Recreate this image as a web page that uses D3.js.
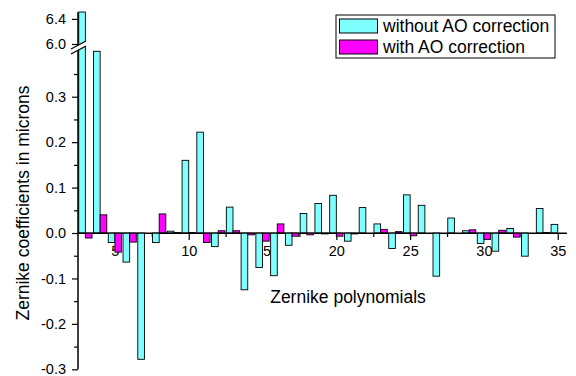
<!DOCTYPE html>
<html>
<head>
<meta charset="utf-8">
<script src="https://cdn.jsdelivr.net/npm/d3@7"></script>
<style>
  body { margin: 0; background: #fff; }
  text { font-family: "Liberation Sans", Arial, sans-serif; fill: #000; }
</style>
</head>
<body>
<svg id="chart" width="576" height="376"></svg>
<script>
var indices = d3.range(3, 36)
var withoutAO = [6.6, 1.5, -0.021, -0.064, -0.278, -0.021, 0.004, 0.160, 0.222, -0.030,
  0.057, -0.125, -0.076, -0.094, -0.027, 0.043, 0.065, 0.083, -0.018, 0.056,
  0.020, -0.034, 0.084, 0.061, -0.095, 0.033, 0.005, -0.023, -0.040, 0.010,
  -0.051, 0.054, 0.019]
var withAO = [-0.011, 0.040, -0.042, -0.020, 0.0, 0.042, 0.001, 0.001, -0.021, 0.005,
  0.005, -0.004, -0.018, 0.020, -0.007, -0.004, -0.002, -0.007, -0.002, 0.0,
  0.008, 0.003, -0.006, 0.0, 0.0, 0.0, 0.007, -0.014, 0.006, -0.009,
  0.0, 0.001, 0.0]
var seriesNames = ["without AO correction", "with AO correction"]
var seriesColors = ["#80ffff", "#ff00ff"]
var xTicks = [5, 10, 15, 20, 25, 30, 35]
var xMinor = [7.5, 12.5, 17.5, 22.5, 27.5, 32.5]
var yLowTicks = [-0.3, -0.2, -0.1, 0.0, 0.1, 0.2, 0.3]
var yLowMinor = [-0.25, -0.15, -0.05, 0.05, 0.15, 0.25, 0.35]
var yHighTicks = [6.0, 6.4]

var svg = d3.select("#chart")
var x = d3.scaleLinear().domain([2.5, 35.6]).range([78, 566.6])
var yLow = d3.scaleLinear().domain([-0.3, 0.4]).range([369.3, 51.3])
var yHigh = d3.scaleLinear().domain([6.0, 6.51]).range([44, 12])
var barW = 0.45

// broken axis: values between the two segments are cut at the top of the lower one
function yPos(v) {
  if (v <= 0.4) return yLow(v)
  if (v < 6.0) return yLow(0.4)
  return yHigh(Math.min(v, 6.51))
}

var fmt = function(d) { return d.toFixed(1) }

// x axis sits on the zero line; drawn before the bars, which cover its labels
var xAxis = svg.append("g")
  .attr("transform", "translate(0," + yLow(0) + ")")
  .call(d3.axisBottom(x).tickValues(xTicks).tickSize(7).tickPadding(6).tickSizeOuter(0))
xAxis.selectAll("text").style("font-size", "14.5px")
svg.append("g")
  .attr("transform", "translate(0," + yLow(0) + ")")
  .call(d3.axisBottom(x).tickValues(xMinor).tickSize(4).tickFormat("").tickSizeOuter(0))
  .select(".domain").remove()

var series = [withoutAO, withAO]
series.forEach(function(vals, s) {
  svg.append("g").selectAll("rect")
    .data(vals)
    .join("rect")
    .attr("x", function(d, i) { return s == 0 ? x(indices[i] - barW) : x(indices[i]) })
    .attr("width", x(barW) - x(0))
    .attr("y", function(d) { return Math.min(yPos(d), yLow(0)) })
    .attr("height", function(d) { return Math.abs(yPos(d) - yLow(0)) })
    .attr("fill", seriesColors[s])
    .attr("stroke", "#000")
    .attr("stroke-width", 0.9)
})

svg.append("line")
  .attr("x1", x(2.5)).attr("x2", x(35.6))
  .attr("y1", yLow(0)).attr("y2", yLow(0))
  .attr("stroke", "#000").attr("stroke-width", 1.2)

var yAxisLow = svg.append("g")
  .attr("transform", "translate(78,0)")
  .call(d3.axisLeft(yLow).tickValues(yLowTicks).tickFormat(fmt).tickSize(6).tickPadding(6).tickSizeOuter(0))
yAxisLow.select(".domain").remove()
yAxisLow.selectAll("text").style("font-size", "14.5px")
svg.append("g")
  .attr("transform", "translate(78,0)")
  .call(d3.axisLeft(yLow).tickValues(yLowMinor).tickSize(4).tickFormat(""))
  .select(".domain").remove()

var yAxisHigh = svg.append("g")
  .attr("transform", "translate(78,0)")
  .call(d3.axisLeft(yHigh).tickValues(yHighTicks).tickFormat(fmt).tickSize(6).tickPadding(6))
yAxisHigh.select(".domain").remove()
yAxisHigh.selectAll("text").style("font-size", "14.5px")

svg.selectAll(".tick line").attr("stroke-width", 1.2)

svg.append("line")
  .attr("x1", 78).attr("x2", 78)
  .attr("y1", yHigh(6.51)).attr("y2", yLow(-0.3))
  .attr("stroke", "#000").attr("stroke-width", 1.5)

// break marks
svg.append("path")
  .attr("d", "M71,49 L86,41 L86,46 L71,54 Z")
  .attr("fill", "#fff")
svg.append("path")
  .attr("d", "M71,49 L86,41 M71,54 L86,46")
  .attr("stroke", "#000").attr("stroke-width", 1.3)

// axis titles
svg.append("text")
  .attr("x", 348).attr("y", 303)
  .attr("text-anchor", "middle")
  .style("font-size", "17.5px")
  .text("Zernike polynomials")
svg.append("text")
  .attr("transform", "translate(29,203) rotate(-90)")
  .attr("text-anchor", "middle")
  .style("font-size", "17.5px")
  .text("Zernike coefficients in microns")

// legend
var legend = svg.append("g")
legend.append("rect")
  .attr("x", 336).attr("y", 15).attr("width", 219).attr("height", 43)
  .attr("fill", "#fff").attr("stroke", "#000").attr("stroke-width", 1)
seriesNames.forEach(function(name, i) {
  legend.append("rect")
    .attr("x", 339.5).attr("y", 19 + i * 21).attr("width", 38).attr("height", 14)
    .attr("fill", seriesColors[i]).attr("stroke", "#000").attr("stroke-width", 1)
  legend.append("text")
    .attr("x", 383).attr("y", 31.5 + i * 21)
    .style("font-size", "17.5px")
    .text(name)
})
</script>
</body>
</html>
